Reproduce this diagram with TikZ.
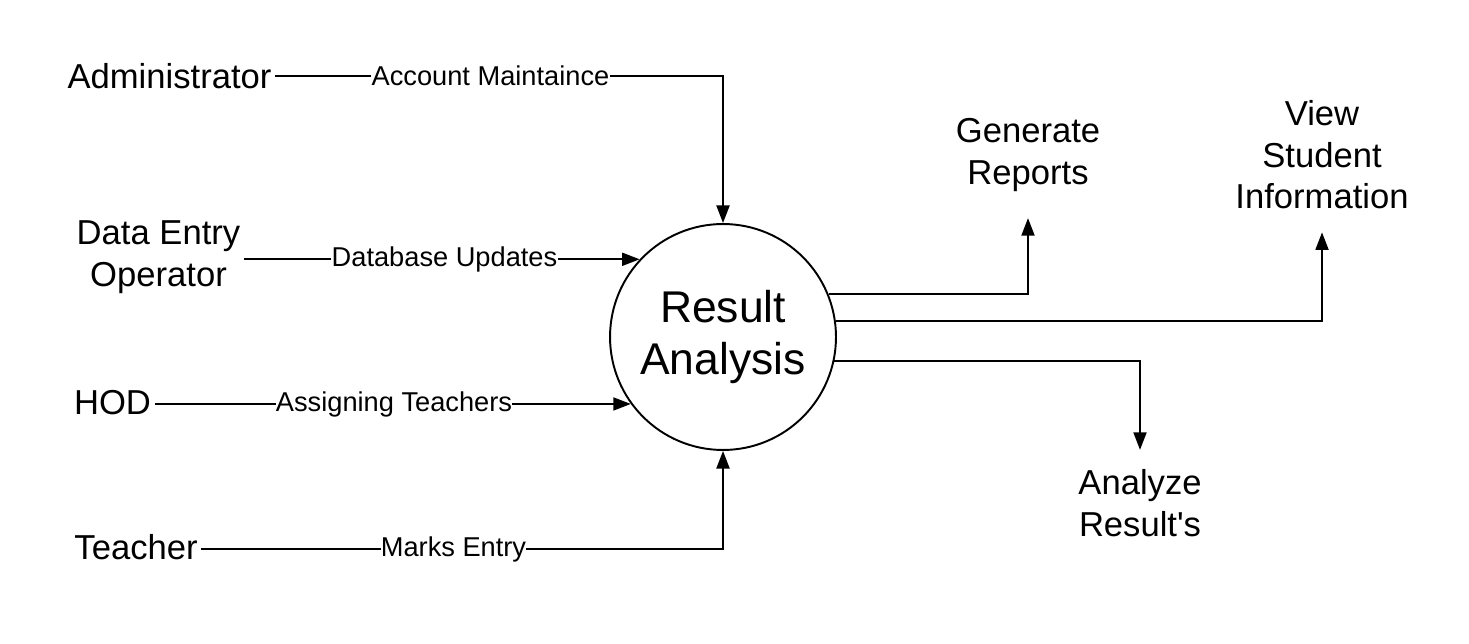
\documentclass[tikz,border=0pt]{standalone}
\usepackage{fontspec}
\setmainfont{Liberation Sans}[Ligatures=TeXOff]
\usetikzlibrary{arrows.meta, positioning}

\begin{document}
\begin{tikzpicture}[x=0.02cm, y=-0.02cm,
            ent/.style={inner sep=2pt, align=center, font=\fontsize{19.7}{23.6}\selectfont},
            lbl/.style={inner sep=0pt, font=\fontsize{15.5}{18.6}\selectfont},
            outp/.style={align=center, font=\fontsize{19.7}{23.6}\selectfont},
            proc/.style={draw, circle, line width=1.1pt, minimum size=4.52cm, inner sep=0pt, align=center, font=\fontsize{25.3}{30}\selectfont},
            flow/.style={line width=1.1pt},
            arrow/.style={flow, -{Triangle[length=10pt, width=7.4pt]}}]

            \useasboundingbox (0,0) rectangle (1469,644);

            \node[proc] (res) at (723,337) {Result\\Analysis};

            \node[ent] (admin) at (169.5,76) {Administrator};
            \node[ent] (dataop) at (158.5,257) {Data Entry\\Operator};
            \node[ent] (hod) at (112.5,403) {HOD};
            \node[ent] (teacher) at (136,547) {Teacher};

            \coordinate (dbx) at (444.5,0);
            \coordinate (asgx) at (394,0);
            \node[lbl] (acclbl) at (490.5,76) {Account Maintaince};
            \node[lbl] (dblbl) at (res.137.5 -| dbx) {Database Updates};
            \node[lbl] (asglbl) at (res.216.6 -| asgx) {Assigning Teachers};
            \node[lbl] (mrklbl) at (453.5,549) {Marks Entry};

            \node[outp, inner ysep=15pt] (genrep) at (1028,155) {Generate\\Reports};
            \node[outp, inner ysep=13pt] (viewinfo) at (1322,155) {View\\Student\\Information};
            \node[outp, inner ysep=11pt] (analyze) at (1140,503) {Analyze\\Result's};

            \draw[flow] (admin) -- (acclbl);
            \draw[arrow] (acclbl) -| (res);
            \draw[flow] (dataop.east |- dblbl) -- (dblbl);
            \draw[arrow] (dblbl) -- (res.137.5);
            \draw[flow] (hod.east |- asglbl) -- (asglbl);
            \draw[arrow] (asglbl) -- (res.216.6);
            \draw[flow] (teacher.east |- mrklbl) -- (mrklbl);
            \draw[arrow] (mrklbl) -| (res);
            \draw[arrow] (res.22.7) -| (genrep);
            \draw[arrow] (res.8.6) -| (viewinfo);
            \draw[arrow] (res.-12.7) -| (analyze);
        \end{tikzpicture}
\end{document}
